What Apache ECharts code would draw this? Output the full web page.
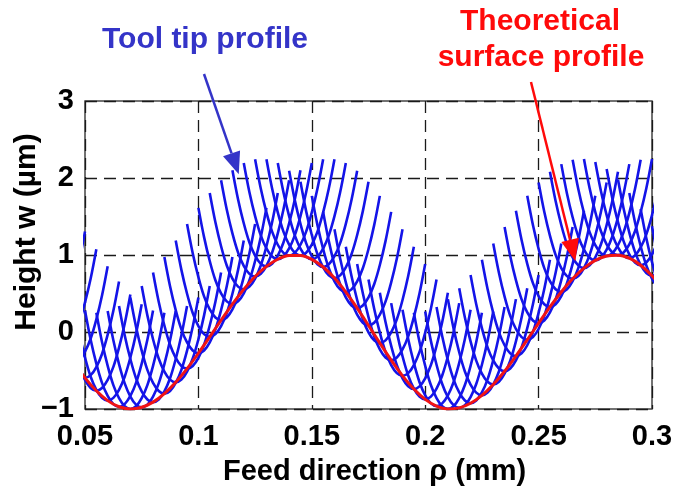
<!DOCTYPE html>
<html>
<head>
<meta charset="utf-8">
<script src="https://cdn.jsdelivr.net/npm/echarts@6/dist/echarts.min.js"></script>
<style>
  html, body { margin: 0; padding: 0; background: #fff; }
  #chart { width: 688px; height: 493px; }
</style>
</head>
<body>
<div id="chart"></div>
<script>
// Feed positions (mm) at which the tool tip touches the surface, one per pass
const feedPos = [
  0.035, 0.040, 0.045, 0.050, 0.055, 0.060, 0.065, 0.070, 0.075, 0.080,
  0.085, 0.090, 0.095, 0.100, 0.105, 0.110, 0.115, 0.120, 0.125, 0.130,
  0.135, 0.140, 0.145, 0.150, 0.155, 0.160, 0.165, 0.170, 0.175, 0.180,
  0.185, 0.190, 0.195, 0.200, 0.205, 0.210, 0.215, 0.220, 0.225, 0.230,
  0.235, 0.240, 0.245, 0.250, 0.255, 0.260, 0.265, 0.270, 0.275, 0.280,
  0.285, 0.290, 0.295, 0.300, 0.305, 0.310, 0.315
];
// Theoretical surface height (µm) at those feed positions
const surfaceHeight = [
  0.055, -0.175, -0.395, -0.595, -0.763, -0.891, -0.971, -1.000, -0.978, -0.911,
  -0.801, -0.654, -0.476, -0.276, -0.063, 0.153, 0.362, 0.554, 0.720, 0.852,
  0.945, 0.993, 0.994, 0.944, 0.844, 0.700, 0.518, 0.310, 0.085, -0.144,
  -0.366, -0.569, -0.741, -0.875, -0.962, -0.999, -0.985, -0.925, -0.823, -0.681,
  -0.509, -0.312, -0.101, 0.114, 0.325, 0.520, 0.691, 0.830, 0.930, 0.987,
  0.998, 0.958, 0.867, 0.730, 0.554, 0.348, 0.124
];
// Tool nose profile relative to its lowest point: lateral offset (mm) and rise (µm)
const toolTipDx = [-0.015, -0.0125, -0.010, -0.0075, -0.005, -0.0025, 0, 0.0025, 0.005, 0.0075, 0.010, 0.0125, 0.015];
const toolTipDz = [1.25, 0.87, 0.56, 0.31, 0.14, 0.035, 0, 0.035, 0.14, 0.31, 0.56, 0.87, 1.25];

const xTickLabels = ['0.05', '0.1', '0.15', '0.2', '0.25', '0.3'];
const yTickLabels = ['\u22121', '0', '1', '2', '3'];

const FONT = "'Liberation Sans', Arial, sans-serif";
const BLUE = '#1414e8';
const RED = '#f01414';

const chart = echarts.init(document.getElementById('chart'), null, { renderer: 'canvas' });

const series = [];
feedPos.forEach((x0, k) => {
  const z0 = surfaceHeight[k];
  series.push({
    type: 'line',
    data: toolTipDx.map((d, i) => [x0 + d, z0 + toolTipDz[i]]),
    smooth: 0.35,
    showSymbol: false,
    clip: true,
    silent: true,
    lineStyle: { color: BLUE, width: 2.6 },
    z: 2
  });
});
series.push({
  type: 'line',
  data: feedPos.map((x, i) => [x, surfaceHeight[i]]),
  smooth: 0.3,
  showSymbol: false,
  clip: true,
  silent: true,
  lineStyle: { color: RED, width: 3 },
  z: 3
});

const axisLabelStyle = { color: '#000', fontFamily: FONT, fontWeight: 'bold', fontSize: 29 };

chart.setOption({
  animation: false,
  backgroundColor: '#fff',
  grid: {
    left: 85, right: 36, top: 101, bottom: 84,
    containLabel: false, outerBoundsMode: 'none',
    show: true, borderColor: '#444', borderWidth: 1.5, backgroundColor: 'transparent'
  },
  xAxis: {
    type: 'value', min: 0.05, max: 0.3, interval: 0.05,
    axisLine: { show: false }, axisTick: { show: false },
    splitLine: { show: true, lineStyle: { color: '#1a1a1a', width: 1.3, type: [12, 7] } },
    axisLabel: Object.assign({ margin: 13, formatter: v => xTickLabels[Math.round((v - 0.05) / 0.05)] }, axisLabelStyle),
    name: 'Feed direction \u03c1 (mm)', nameLocation: 'middle', nameGap: 48, nameMoveOverlap: false,
    nameTextStyle: Object.assign({}, axisLabelStyle, { fontSize: 29, padding: [0, 0, 0, 12] })
  },
  yAxis: {
    type: 'value', min: -1, max: 3, interval: 1,
    axisLine: { show: false }, axisTick: { show: false },
    splitLine: { show: true, lineStyle: { color: '#1a1a1a', width: 1.3, type: [12, 7] } },
    axisLabel: Object.assign({ margin: 11, formatter: v => yTickLabels[Math.round(v + 1)] }, axisLabelStyle),
    name: 'Height w (\u00b5m)', nameLocation: 'middle', nameGap: 43, nameMoveOverlap: false,
    nameTextStyle: Object.assign({}, axisLabelStyle, { fontSize: 30, padding: [0, 0, 0, 46] })
  },
  series: series
});

// Callout labels with arrows pointing at the plotted curves
function arrow(x1, y1, x2, y2, color, width, headLen, headHalf) {
  const ang = Math.atan2(y2 - y1, x2 - x1);
  const bx = x2 - headLen * Math.cos(ang), by = y2 - headLen * Math.sin(ang);
  const nx = -Math.sin(ang) * headHalf, ny = Math.cos(ang) * headHalf;
  return [
    { type: 'line', shape: { x1: x1, y1: y1, x2: bx, y2: by }, style: { stroke: color, lineWidth: width }, z: 10 },
    { type: 'polygon', shape: { points: [[x2, y2], [bx + nx, by + ny], [bx - nx, by - ny]] }, style: { fill: color }, z: 10 }
  ];
}
const toolTip = chart.convertToPixel({ gridIndex: 0 }, [0.1178, 2.05]);
const surfTip = chart.convertToPixel({ gridIndex: 0 }, [0.2662, 0.92]);

const textStyle = (txt, color) => ({ text: txt, fill: color, font: "bold 30px " + FONT, textAlign: 'center', textVerticalAlign: 'middle' });
chart.setOption({
  graphic: [
    { type: 'text', x: 205, y: 40, style: textStyle('Tool tip profile', '#3434c8'), z: 10 },
    { type: 'text', x: 540, y: 22, style: textStyle('Theoretical', '#ff0a0a'), z: 10 },
    { type: 'text', x: 541, y: 58, style: textStyle('surface profile', '#ff0a0a'), z: 10 }
  ].concat(arrow(204, 74, toolTip[0], toolTip[1], '#3434c8', 2.5, 22, 9))
   .concat(arrow(531, 82, surfTip[0], surfTip[1], '#ff0a0a', 2.5, 22, 9))
});
</script>
</body>
</html>
